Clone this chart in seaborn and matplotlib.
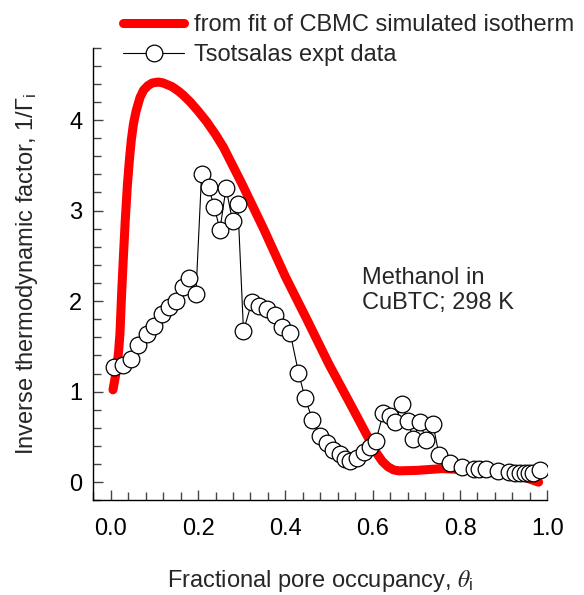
import numpy as np
import pandas as pd
import matplotlib
matplotlib.use("Agg")
import matplotlib.pyplot as plt
from matplotlib.ticker import MultipleLocator
import seaborn as sns

# fit of CBMC simulated isotherm (red curve)
fit_theta = [0.005, 0.008, 0.011, 0.014, 0.018, 0.021, 0.025, 0.029, 0.033, 0.038,
             0.043, 0.047, 0.052, 0.058, 0.067, 0.075, 0.085, 0.095, 0.109, 0.120,
             0.130, 0.140, 0.155, 0.165, 0.182, 0.200, 0.220, 0.240, 0.258, 0.300,
             0.350, 0.400, 0.450, 0.500, 0.548, 0.580, 0.609, 0.622, 0.635, 0.648,
             0.660, 0.700, 0.760, 0.800, 0.880, 0.950, 0.980]
fit_inv_gamma = [1.02, 1.10, 1.18, 1.27, 1.45, 1.64, 2.10, 2.50, 2.88, 3.28,
                 3.58, 3.78, 3.96, 4.10, 4.25, 4.33, 4.38, 4.41, 4.42, 4.41,
                 4.39, 4.37, 4.32, 4.28, 4.20, 4.10, 3.98, 3.84, 3.70, 3.30,
                 2.80, 2.27, 1.79, 1.30, 0.87, 0.58, 0.32, 0.23, 0.17, 0.135,
                 0.125, 0.13, 0.15, 0.14, 0.10, 0.05, 0.00]

# Tsotsalas experimental data
expt_theta = [0.008, 0.027, 0.046, 0.063, 0.082, 0.100, 0.117, 0.134, 0.150, 0.165,
              0.180, 0.195, 0.208, 0.224, 0.237, 0.250, 0.264, 0.279, 0.291, 0.304,
              0.323, 0.340, 0.357, 0.376, 0.392, 0.411, 0.430, 0.445, 0.462, 0.479,
              0.495, 0.510, 0.524, 0.537, 0.548, 0.563, 0.580, 0.594, 0.607, 0.624,
              0.640, 0.651, 0.667, 0.680, 0.693, 0.708, 0.722, 0.738, 0.752, 0.777,
              0.805, 0.831, 0.844, 0.860, 0.888, 0.913, 0.926, 0.937, 0.949, 0.959,
              0.968, 0.983]
expt_inv_gamma = [1.27, 1.29, 1.36, 1.52, 1.64, 1.73, 1.86, 1.94, 2.00, 2.16,
                  2.26, 2.08, 3.40, 3.26, 3.04, 2.79, 3.25, 2.88, 3.07, 1.67,
                  1.99, 1.95, 1.91, 1.85, 1.71, 1.65, 1.21, 0.93, 0.69, 0.51,
                  0.43, 0.36, 0.31, 0.26, 0.23, 0.27, 0.33, 0.39, 0.45, 0.76,
                  0.73, 0.66, 0.86, 0.68, 0.48, 0.66, 0.47, 0.64, 0.30, 0.21,
                  0.17, 0.15, 0.14, 0.14, 0.12, 0.11, 0.10, 0.10, 0.10, 0.10,
                  0.10, 0.13]

fit_df = pd.DataFrame({'theta': fit_theta, 'inv': fit_inv_gamma})
expt_df = pd.DataFrame({'theta': expt_theta, 'inv': expt_inv_gamma})

sns.set_theme(style="ticks")
plt.rcParams['font.family'] = ['Liberation Sans', 'DejaVu Sans']
plt.rcParams['mathtext.fontset'] = 'stix'
plt.rcParams['font.size'] = 17

fig = plt.figure(figsize=(5.84, 5.95), dpi=100)
ax = fig.add_axes([0.1598, 0.1592, 0.7774, 0.7607])

sns.lineplot(data=fit_df, x='theta', y='inv', ax=ax, color='#ff0000', linewidth=6.5,
             solid_capstyle='round', solid_joinstyle='round',
             label='from fit of CBMC simulated isotherm')
sns.lineplot(data=expt_df, x='theta', y='inv', ax=ax, color='black', linewidth=0.8,
             marker='o', markersize=12, markerfacecolor='white',
             markeredgecolor='black', markeredgewidth=0.9,
             label='Tsotsalas expt data')

ax.set_xlim(-0.04, 1.0)
ax.set_ylim(-0.2, 4.8)
ax.xaxis.set_major_locator(MultipleLocator(0.2))
ax.xaxis.set_minor_locator(MultipleLocator(0.04))
ax.yaxis.set_major_locator(MultipleLocator(1))
ax.yaxis.set_minor_locator(MultipleLocator(0.2))
ax.xaxis.set_major_formatter(matplotlib.ticker.FormatStrFormatter('%.1f'))

ax.tick_params(which='both', direction='in', colors='#444444', labelcolor='black',
               labelsize=17, width=1)
ax.tick_params(which='major', length=7.5)
ax.tick_params(which='minor', length=5.5)
ax.tick_params(axis='x', pad=13)
ax.tick_params(axis='y', pad=8)

for s in ['top', 'right']:
    ax.spines[s].set_visible(False)
for s in ['left', 'bottom']:
    ax.spines[s].set_color('black')
    ax.spines[s].set_linewidth(1)

ax.set_xlabel(r'Fractional pore occupancy, $\theta_{\mathregular{i}}$', fontsize=17, labelpad=20)
ax.set_ylabel(r'Inverse thermodynamic factor, 1/$\mathregular{\Gamma_{i}}$', fontsize=17, labelpad=21)

ax.text(0.576, 2.38, 'Methanol in\nCuBTC; 298 K', fontsize=17, va='top', ha='left')

ax.legend_.remove()
handles, labels = ax.get_legend_handles_labels()
fig.legend(handles, labels, loc='upper left', bbox_to_anchor=(123 / 584, 1 - 14 / 595),
           frameon=False, fontsize=17, borderpad=0, borderaxespad=0,
           handlelength=2.6, handletextpad=0.4, labelspacing=0.35, numpoints=1)

fig.savefig('out.png', dpi=100)
